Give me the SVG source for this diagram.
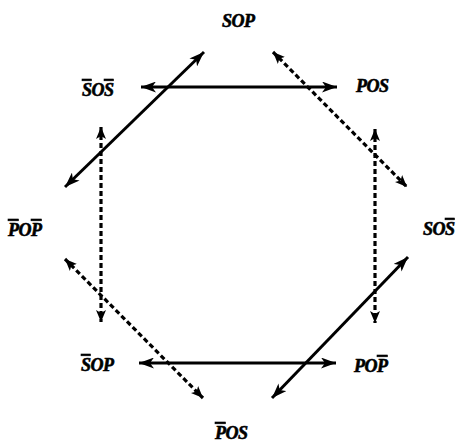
<svg xmlns="http://www.w3.org/2000/svg" width="465" height="448" viewBox="0 0 465 448">
<style>
  .lbl { font-family: "Liberation Serif", "Times New Roman", serif; font-style: italic; font-weight: bold; font-size: 18px; fill: #000; stroke: #000; stroke-width: 0.6; letter-spacing: -0.5px; }
  .ob { text-decoration: overline; }
  .solid { stroke: #000; stroke-width: 3; fill: none; marker-start: url(#ah); marker-end: url(#ah); }
  .dash { stroke: #000; stroke-width: 3.2; fill: none; stroke-dasharray: 5 3; marker-start: url(#ahs); marker-end: url(#ahs); }
</style>
<defs>
  <marker id="ah" viewBox="0 0 15 11" refX="15" refY="5.5" markerWidth="15" markerHeight="11" markerUnits="userSpaceOnUse" orient="auto-start-reverse">
    <path d="M0,0 L15,5.5 L0,11 L4,5.5 Z" fill="#000"/>
  </marker>
  <marker id="ahs" viewBox="0 0 12 10" refX="12" refY="5" markerWidth="12" markerHeight="10" markerUnits="userSpaceOnUse" orient="auto-start-reverse">
    <path d="M0,0 L12,5 L0,10 L3,5 Z" fill="#000"/>
  </marker>
</defs>
<g id="connectors">
  <line class="solid" x1="141" y1="87" x2="337" y2="87"/>
  <line class="solid" x1="139" y1="363" x2="336" y2="363"/>
  <line class="solid" x1="204" y1="52" x2="65" y2="187"/>
  <line class="solid" x1="408" y1="257" x2="272" y2="398"/>
  <line class="dash" x1="273" y1="52" x2="407" y2="187"/>
  <line class="dash" x1="65" y1="259" x2="203" y2="398"/>
  <line class="dash" x1="101" y1="127" x2="101" y2="322"/>
  <line class="dash" x1="375" y1="129" x2="375" y2="323"/>
</g>
<g id="SOP"><text class="lbl" x="222" y="27">SOP</text></g>
<g id="nSOnS"><text class="lbl" x="82" y="96"><tspan class="ob">S</tspan>O<tspan class="ob">S</tspan></text></g>
<g id="POS"><text class="lbl" x="356" y="92">POS</text></g>
<g id="nPOnP"><text class="lbl" x="8" y="236"><tspan class="ob">P</tspan>O<tspan class="ob">P</tspan></text></g>
<g id="SOnS"><text class="lbl" x="423" y="235">SO<tspan class="ob">S</tspan></text></g>
<g id="nSOP"><text class="lbl" x="81" y="371"><tspan class="ob">S</tspan>OP</text></g>
<g id="POnP"><text class="lbl" x="354" y="372">PO<tspan class="ob">P</tspan></text></g>
<g id="nPOS"><text class="lbl" x="215" y="439"><tspan class="ob">P</tspan>OS</text></g>
</svg>
